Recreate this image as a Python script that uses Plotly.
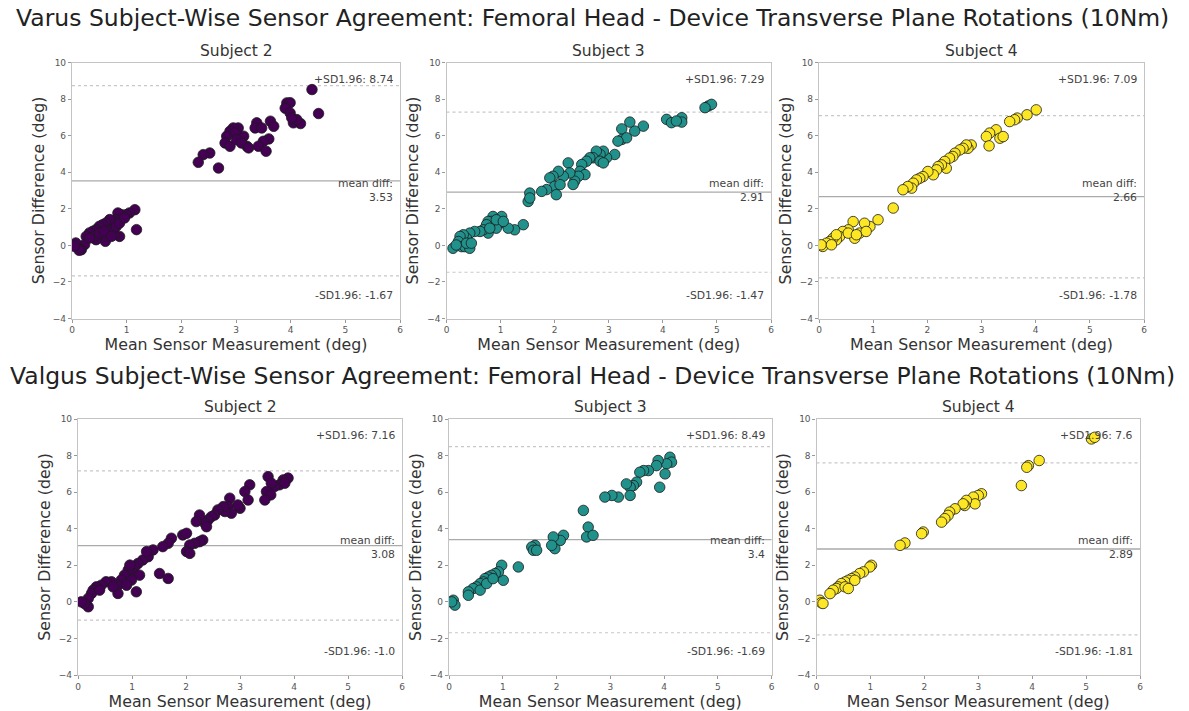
import plotly.graph_objects as go

# ---------------- DATA ----------------
subjects = ["Subject 2", "Subject 3", "Subject 4"]
row_titles = [
    "Varus Subject-Wise Sensor Agreement: Femoral Head - Device Transverse Plane Rotations (10Nm)",
    "Valgus Subject-Wise Sensor Agreement: Femoral Head - Device Transverse Plane Rotations (10Nm)",
]
colors = ["#440154", "#21918c", "#fde725"]

varus_s2_x = [4.39, 4.51, 3.93, 3.99, 3.90, 3.99, 4.05, 4.18, 4.11, 4.02, 3.63, 3.69, 3.38, 3.35, 3.47,
              3.60, 3.50, 3.41, 3.55, 3.20, 3.14, 3.04, 2.95, 2.89, 2.98, 2.83, 2.80, 2.89, 3.01, 3.10,
              2.68, 2.52, 2.40, 2.31, 3.23,
              1.15, 1.18, 1.05, 0.99, 0.90, 0.84, 0.81, 0.75, 0.69, 0.62, 0.56, 0.50, 0.44, 0.38, 0.32,
              0.26, 0.23, 0.17, 0.13, 0.07, 0.04, 0.87, 0.78, 0.62, 0.61, 0.44, 0.41, 0.50, 0.69, 0.75,
              0.81, 0.87, 0.96, 0.59, 0.32, 0.72]
varus_s2_y = [8.52, 7.21, 7.79, 7.80, 7.50, 7.24, 6.70, 6.66, 6.88, 6.97, 6.79, 6.51, 6.70, 6.42, 6.42,
              5.82, 5.69, 5.42, 5.15, 5.42, 5.97, 6.42, 6.42, 6.24, 6.15, 5.97, 5.60, 5.42, 5.78, 5.60,
              4.23, 5.05, 4.96, 4.54, 5.33,
              1.95, 0.86, 1.77, 1.68, 1.68, 1.77, 1.41, 1.31, 1.41, 1.22, 1.13, 1.04, 0.86, 0.77, 0.68,
              0.49, 0.04, -0.24, -0.27, 0.13, -0.05, 0.49, 0.58, 0.40, 0.22, 0.31, 0.49, 0.68, 0.86, 0.86,
              1.04, 1.22, 1.50, 0.77, 0.40, 0.49]

varus_s3_x = [4.84, 4.90, 4.78, 4.07, 4.16, 4.35, 4.35, 4.25, 3.64, 3.48, 3.39, 3.24, 3.24, 3.33, 3.17,
              3.11, 2.96, 2.90, 2.84, 2.77, 2.71, 2.65, 2.84, 2.90, 2.59, 2.50, 2.47, 2.56, 2.44, 2.37,
              2.34, 2.25, 2.28, 2.16, 2.07, 1.97, 1.91, 2.00, 2.03, 2.10, 1.85, 1.76, 1.54, 1.51, 1.54,
              1.42, 1.26, 1.14, 1.02, 0.99, 0.92, 0.86, 0.83, 0.77, 0.74, 0.77, 0.68, 0.62, 0.52, 0.43,
              0.37, 0.31, 0.25, 0.22, 0.28, 0.34, 0.43, 0.12, 0.18, 0.37, 0.46, 0.80, 0.92, 1.05]
varus_s3_y = [7.62, 7.71, 7.53, 6.89, 6.71, 6.98, 6.74, 6.80, 6.52, 6.25, 6.74, 6.37, 5.79, 5.88, 5.70,
              4.97, 4.79, 5.15, 4.97, 5.15, 4.79, 4.79, 4.60, 4.51, 4.60, 4.42, 4.05, 3.87, 3.78, 3.51,
              3.33, 4.51, 3.96, 3.78, 4.05, 3.78, 3.69, 3.23, 2.77, 3.32, 3.05, 2.95, 2.86, 2.40, 2.59,
              1.13, 0.85, 0.94, 1.58, 1.22, 0.94, 1.58, 1.31, 1.31, 1.13, 0.67, 0.85, 0.76, 0.76, 0.67,
              0.39, 0.58, 0.49, 0.21, -0.07, -0.07, -0.16, -0.16, 0.02, 0.12, 0.12, 0.94, 1.40, 1.31]

varus_s4_x = [4.01, 3.84, 3.66, 3.61, 3.52, 3.27, 3.15, 3.09, 3.14, 3.34, 3.40, 2.81, 2.75, 2.72, 2.66,
              2.60, 2.51, 2.47, 2.41, 2.32, 2.35, 2.26, 2.20, 2.17, 2.11, 2.01, 1.92, 1.86, 1.80, 1.74,
              1.71, 1.64, 1.55, 1.37, 1.09, 0.94, 0.84, 0.75, 0.66, 0.63, 0.54, 0.44, 0.38, 0.32, 0.26,
              0.20, 0.14, 0.07, 0.04, 0.87, 0.54, 0.32, 0.69, 0.23]
varus_s4_y = [7.41, 7.14, 6.96, 6.87, 6.77, 6.32, 6.14, 5.95, 5.44, 5.86, 5.95, 5.49, 5.31, 5.49, 5.31,
              5.22, 5.04, 4.86, 4.77, 4.59, 4.22, 4.40, 4.31, 4.13, 3.86, 4.04, 3.76, 3.67, 3.58, 3.40,
              3.13, 3.22, 3.04, 2.04, 1.40, 1.03, 1.21, 0.67, 0.39, 1.30, 0.85, 0.76, 0.48, 0.30, 0.39,
              0.21, 0.12, -0.06, 0.03, 0.76, 0.67, 0.58, 0.58, 0.03]

valgus_s2_x = [3.89, 3.80, 3.73, 3.83, 3.64, 3.52, 3.58, 3.49, 3.57, 3.46, 3.18, 3.09, 3.15, 3.00, 2.96,
               2.81, 2.78, 2.84, 2.72, 2.69, 2.59, 2.53, 2.47, 2.41, 2.35, 2.38, 2.25, 2.19, 2.31, 2.25,
               2.16, 2.07, 2.01, 2.07, 1.94, 2.01, 1.73, 1.67, 1.57, 1.51, 1.67, 1.39, 1.30, 1.20, 1.11,
               1.05, 1.02, 1.08, 1.14, 0.93, 0.86, 0.80, 0.74, 0.74, 0.62, 0.52, 0.43, 0.34, 0.28, 0.25,
               0.19, 0.19, 0.12, 0.06, 0.99, 0.90, 0.65, 0.40, 0.96, 1.27]
valgus_s2_y = [6.77, 6.67, 6.40, 6.49, 6.31, 6.85, 6.49, 6.03, 5.85, 5.57, 6.40, 6.03, 5.57, 5.12, 5.30,
               5.67, 5.21, 4.85, 4.94, 5.21, 5.03, 4.75, 4.66, 4.48, 4.30, 4.11, 4.75, 4.39, 3.38, 3.29,
               3.20, 3.11, 2.75, 2.65, 3.66, 3.75, 3.48, 3.20, 3.02, 1.55, 1.28, 2.84, 2.47, 2.29, 2.10,
               1.92, 1.55, 0.55, 1.46, 1.74, 1.46, 1.19, 0.91, 0.46, 1.10, 1.10, 0.91, 0.82, 0.64, 0.46,
               0.19, -0.27, -0.09, 0.00, 1.19, 0.91, 0.82, 0.64, 2.01, 2.75]

valgus_s3_x = [4.11, 4.14, 4.05, 4.02, 3.89, 3.86, 3.92, 3.71, 3.62, 3.55, 3.49, 3.43, 3.37, 3.37, 3.30,
               3.15, 3.03, 2.90, 2.50, 2.59, 2.56, 2.68, 2.13, 2.07, 1.94, 1.97, 1.91, 1.60, 1.54, 1.57,
               1.63, 1.29, 0.98, 1.01, 0.92, 0.86, 0.79, 0.73, 0.67, 0.64, 0.58, 0.51, 0.45, 0.36, 0.36,
               0.58, 0.70, 0.82, 0.08, 0.11, 0.05]
valgus_s3_y = [7.91, 7.64, 7.55, 7.00, 7.73, 7.45, 6.27, 7.18, 7.18, 7.09, 6.55, 6.36, 6.27, 5.82, 6.45,
               5.73, 5.82, 5.73, 5.00, 4.09, 3.55, 3.64, 3.64, 3.36, 3.55, 2.91, 3.09, 3.09, 3.00, 2.82,
               2.82, 1.91, 2.00, 1.18, 1.64, 1.55, 1.45, 1.36, 1.27, 1.09, 1.00, 0.82, 0.73, 0.55, 0.36,
               0.64, 1.00, 1.27, 0.09, -0.18, 0.00]

valgus_s4_x = [5.10, 5.16, 4.13, 3.93, 3.90, 3.80, 3.06, 3.00, 2.91, 2.94, 2.78, 2.75, 2.72, 2.57, 2.47,
               2.44, 2.38, 2.32, 1.98, 1.95, 1.64, 1.55, 1.02, 0.99, 0.87, 0.80, 0.71, 0.65, 0.59, 0.53,
               0.46, 0.40, 0.37, 0.31, 0.25, 0.53, 0.59, 0.06, 0.09, 0.12, 0.71]
valgus_s4_y = [8.91, 9.00, 7.73, 7.45, 7.36, 6.36, 5.91, 5.82, 5.73, 5.36, 5.55, 5.27, 5.36, 5.09, 4.91,
               4.73, 4.55, 4.36, 3.82, 3.73, 3.22, 3.09, 2.00, 1.91, 1.64, 1.55, 1.36, 1.27, 1.18, 1.09,
               1.00, 0.82, 0.73, 0.64, 0.45, 0.82, 0.73, 0.09, -0.05, -0.09, 1.18]

varus_upper = [8.74, 7.29, 7.09]
varus_mean = [3.53, 2.91, 2.66]
varus_lower = [-1.67, -1.47, -1.78]
valgus_upper = [7.16, 8.49, 7.6]
valgus_mean = [3.08, 3.4, 2.89]
valgus_lower = [-1.0, -1.69, -1.81]

x_ticks = [0, 1, 2, 3, 4, 5, 6]
y_ticks = [-4, -2, 0, 2, 4, 6, 8, 10]

# ---------------- LAYOUT ----------------
W, H = 1189, 711
FONT = "DejaVu Sans"
# pixel boxes of each panel: (left, right, top, bottom)
boxes = [
    (72, 400, 62.5, 318.5), (446.5, 771, 62.5, 318.5), (819, 1144, 62.5, 318.5),
    (78, 402, 419, 675), (449, 771.5, 419, 675), (816.5, 1140, 419, 675),
]

panels = [
    (varus_s2_x, varus_s2_y, varus_upper[0], varus_mean[0], varus_lower[0]),
    (varus_s3_x, varus_s3_y, varus_upper[1], varus_mean[1], varus_lower[1]),
    (varus_s4_x, varus_s4_y, varus_upper[2], varus_mean[2], varus_lower[2]),
    (valgus_s2_x, valgus_s2_y, valgus_upper[0], valgus_mean[0], valgus_lower[0]),
    (valgus_s3_x, valgus_s3_y, valgus_upper[1], valgus_mean[1], valgus_lower[1]),
    (valgus_s4_x, valgus_s4_y, valgus_upper[2], valgus_mean[2], valgus_lower[2]),
]

fig = go.Figure()
layout = dict(
    width=W, height=H, margin=dict(l=0, r=0, t=0, b=0, autoexpand=False),
    paper_bgcolor="white", plot_bgcolor="white", showlegend=False,
    font=dict(family=FONT, color="#333333"),
)
shapes = []
annotations = []

for i, (xs, ys, up, mn, lo) in enumerate(panels):
    k = "" if i == 0 else str(i + 1)
    l, r, t, b = boxes[i]
    xd = [l / W, r / W]
    yd = [1 - b / H, 1 - t / H]
    layout["xaxis" + k] = dict(
        domain=xd, range=[0, 6], tickvals=x_ticks, anchor="y" + k,
        showgrid=False, zeroline=False, showline=True, mirror=True,
        linecolor="#c4c4c4", linewidth=1.2, ticks="outside", ticklen=3,
        tickcolor="#999999", tickfont=dict(size=9, color="#555555"),
        title=dict(text="Mean Sensor Measurement (deg)", font=dict(size=15.8, color="#333333"), standoff=4),
    )
    layout["yaxis" + k] = dict(
        domain=yd, range=[-4, 10], tickvals=y_ticks, anchor="x" + k,
        showgrid=False, zeroline=False, showline=True, mirror=True,
        linecolor="#c4c4c4", linewidth=1.2, ticks="outside", ticklen=3,
        tickcolor="#999999", tickfont=dict(size=9, color="#555555"),
        title=dict(text="Sensor Difference (deg)", font=dict(size=15.8, color="#333333"), standoff=4),
    )
    col = colors[i % 3]
    fig.add_trace(go.Scatter(
        x=xs, y=ys, mode="markers", xaxis="x" + k, yaxis="y" + k,
        marker=dict(size=10.5, color=col, line=dict(color="#1a1a1a", width=0.8)),
        hoverinfo="x+y",
    ))
    xr = "x" + k + " domain"
    yr = "y" + k
    shapes.append(dict(type="line", xref=xr, yref=yr, x0=0, x1=1, y0=up, y1=up,
                       line=dict(color="#c8c8c8", width=1.2, dash="dot"), layer="below"))
    shapes.append(dict(type="line", xref=xr, yref=yr, x0=0, x1=1, y0=mn, y1=mn,
                       line=dict(color="#aaaaaa", width=1.3), layer="below"))
    shapes.append(dict(type="line", xref=xr, yref=yr, x0=0, x1=1, y0=lo, y1=lo,
                       line=dict(color="#c8c8c8", width=1.2, dash="dot"), layer="below"))
    ydom = "y" + k + " domain"
    afont = dict(size=10.8, color="#444444")
    annotations.append(dict(xref=xr, yref=ydom, x=0.985, y=0.935, text="+SD1.96: " + str(up),
                            showarrow=False, xanchor="right", yanchor="middle", font=afont))
    annotations.append(dict(xref=xr, yref=ydom, x=0.985, y=0.50, text="mean diff:<br>" + str(mn),
                            showarrow=False, xanchor="right", yanchor="middle", align="right", font=afont))
    annotations.append(dict(xref=xr, yref=ydom, x=0.985, y=0.09, text="-SD1.96: " + str(lo),
                            showarrow=False, xanchor="right", yanchor="middle", font=afont))
    # subplot title
    annotations.append(dict(xref="paper", yref="paper", x=(xd[0] + xd[1]) / 2, y=yd[1],
                            text=subjects[i % 3], showarrow=False, xanchor="center", yanchor="bottom",
                            yshift=1, font=dict(size=15.5, color="#333333")))

# row titles
annotations.append(dict(xref="paper", yref="paper", x=592 / W, y=1 - 18 / H, text=row_titles[0],
                        showarrow=False, xanchor="center", yanchor="middle",
                        font=dict(size=23.5, color="#222222")))
annotations.append(dict(xref="paper", yref="paper", x=592 / W, y=1 - 376 / H, text=row_titles[1],
                        showarrow=False, xanchor="center", yanchor="middle",
                        font=dict(size=23.5, color="#222222")))

layout["shapes"] = shapes
layout["annotations"] = annotations
fig.update_layout(**layout)
fig.write_html(
    "out.html",
    config={"displayModeBar": False},
    post_script="document.body.style.margin='0';document.body.style.overflow='hidden';",
)
